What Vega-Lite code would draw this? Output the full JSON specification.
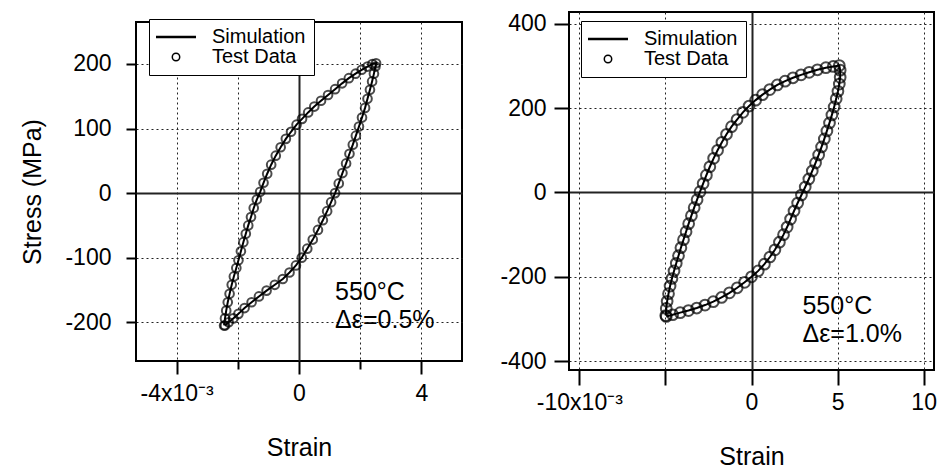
{
  "$schema": "https://vega.github.io/schema/vega-lite/v6.json",
  "background": "white",
  "padding": {"left": 19, "top": 6, "right": 5, "bottom": 2},
  "spacing": 35,
  "config": {
    "font": "Liberation Sans",
    "view": {"stroke": "black", "strokeWidth": 2},
    "axis": {
      "domain": false,
      "labelColor": "black",
      "titleColor": "black",
      "tickColor": "black",
      "tickWidth": 2,
      "labelFontSize": 23,
      "titleFontSize": 25,
      "titleFontWeight": "normal",
      "grid": true,
      "gridColor": "#222",
      "gridOpacity": 1
    },
    "legend": {
      "labelFontSize": 20,
      "labelColor": "black",
      "strokeColor": "black",
      "fillColor": "white",
      "padding": 8,
      "rowPadding": 0,
      "symbolSize": 60,
      "symbolOffset": 9,
      "labelOffset": 26
    }
  },
  "resolve": {
    "scale": {"x": "independent", "y": "independent", "stroke": "independent"},
    "legend": {"stroke": "independent"}
  },
  "datasets": {
    "left": [
      {"o":1,"strain":-0.00245,"stress":-205},{"o":2,"strain":-0.00242,"stress":-194},{"o":3,"strain":-0.00238,"stress":-182},{"o":4,"strain":-0.00233,"stress":-169},{"o":5,"strain":-0.00227,"stress":-156},{"o":6,"strain":-0.0022,"stress":-142},{"o":7,"strain":-0.00213,"stress":-129},{"o":8,"strain":-0.00205,"stress":-116},{"o":9,"strain":-0.00198,"stress":-104},{"o":10,"strain":-0.0019,"stress":-90},
      {"o":11,"strain":-0.00182,"stress":-76},{"o":12,"strain":-0.00174,"stress":-63},{"o":13,"strain":-0.00166,"stress":-50},{"o":14,"strain":-0.00157,"stress":-37},{"o":15,"strain":-0.00148,"stress":-23},{"o":16,"strain":-0.00138,"stress":-10},{"o":17,"strain":-0.00127,"stress":2},{"o":18,"strain":-0.00116,"stress":16},{"o":19,"strain":-0.00104,"stress":30},{"o":20,"strain":-0.00091,"stress":44},
      {"o":21,"strain":-0.00076,"stress":58},{"o":22,"strain":-0.0006,"stress":71},{"o":23,"strain":-0.00043,"stress":84},{"o":24,"strain":-0.00026,"stress":95},{"o":25,"strain":-0.00008,"stress":106},{"o":26,"strain":0.0001,"stress":115},{"o":27,"strain":0.0003,"stress":125},{"o":28,"strain":0.0005,"stress":134},{"o":29,"strain":0.00072,"stress":143},{"o":30,"strain":0.00095,"stress":152},
      {"o":31,"strain":0.00118,"stress":161},{"o":32,"strain":0.00141,"stress":170},{"o":33,"strain":0.00163,"stress":178},{"o":34,"strain":0.00185,"stress":185},{"o":35,"strain":0.00205,"stress":191},{"o":36,"strain":0.00224,"stress":196},{"o":37,"strain":0.0024,"stress":200},{"o":38,"strain":0.00252,"stress":201},
      {"o":39,"strain":0.0025,"stress":196},{"o":40,"strain":0.00245,"stress":185},{"o":41,"strain":0.00239,"stress":173},{"o":42,"strain":0.00232,"stress":160},{"o":43,"strain":0.00224,"stress":146},{"o":44,"strain":0.00216,"stress":132},{"o":45,"strain":0.00206,"stress":117},{"o":46,"strain":0.00196,"stress":103},{"o":47,"strain":0.00186,"stress":89},{"o":48,"strain":0.00176,"stress":75},
      {"o":49,"strain":0.00165,"stress":61},{"o":50,"strain":0.00154,"stress":46},{"o":51,"strain":0.00142,"stress":31},{"o":52,"strain":0.0013,"stress":15},{"o":53,"strain":0.00118,"stress":0},{"o":54,"strain":0.00105,"stress":-14},{"o":55,"strain":0.00092,"stress":-28},{"o":56,"strain":0.00078,"stress":-42},{"o":57,"strain":0.00062,"stress":-57},{"o":58,"strain":0.00045,"stress":-72},
      {"o":59,"strain":0.00027,"stress":-86},{"o":60,"strain":0.00009,"stress":-100},{"o":61,"strain":-0.0001,"stress":-112},{"o":62,"strain":-0.00031,"stress":-123},{"o":63,"strain":-0.00053,"stress":-133},{"o":64,"strain":-0.00079,"stress":-142},{"o":65,"strain":-0.00106,"stress":-151},{"o":66,"strain":-0.00131,"stress":-160},{"o":67,"strain":-0.00155,"stress":-169},{"o":68,"strain":-0.00178,"stress":-178},
      {"o":69,"strain":-0.00198,"stress":-187},{"o":70,"strain":-0.00215,"stress":-194},{"o":71,"strain":-0.0023,"stress":-200},{"o":72,"strain":-0.00242,"stress":-205}
    ],
    "right": [
      {"o":1,"strain":-0.00498,"stress":-292},{"o":2,"strain":-0.00495,"stress":-275},{"o":3,"strain":-0.0049,"stress":-258},{"o":4,"strain":-0.00482,"stress":-240},{"o":5,"strain":-0.00473,"stress":-222},{"o":6,"strain":-0.00462,"stress":-204},{"o":7,"strain":-0.0045,"stress":-186},{"o":8,"strain":-0.00437,"stress":-168},{"o":9,"strain":-0.00424,"stress":-150},{"o":10,"strain":-0.0041,"stress":-131},
      {"o":11,"strain":-0.00395,"stress":-112},{"o":12,"strain":-0.0038,"stress":-93},{"o":13,"strain":-0.00365,"stress":-74},{"o":14,"strain":-0.00349,"stress":-55},{"o":15,"strain":-0.00333,"stress":-36},{"o":16,"strain":-0.00316,"stress":-17},{"o":17,"strain":-0.00299,"stress":2},{"o":18,"strain":-0.00281,"stress":21},{"o":19,"strain":-0.00262,"stress":41},{"o":20,"strain":-0.00242,"stress":61},
      {"o":21,"strain":-0.0022,"stress":81},{"o":22,"strain":-0.00197,"stress":100},{"o":23,"strain":-0.00172,"stress":119},{"o":24,"strain":-0.00145,"stress":138},{"o":25,"strain":-0.00116,"stress":156},{"o":26,"strain":-0.00084,"stress":173},{"o":27,"strain":-0.0005,"stress":190},{"o":28,"strain":-0.00014,"stress":205},{"o":29,"strain":0.00024,"stress":219},{"o":30,"strain":0.00064,"stress":232},
      {"o":31,"strain":0.00106,"stress":244},{"o":32,"strain":0.0015,"stress":255},{"o":33,"strain":0.00195,"stress":264},{"o":34,"strain":0.00241,"stress":272},{"o":35,"strain":0.00288,"stress":279},{"o":36,"strain":0.00335,"stress":285},{"o":37,"strain":0.00383,"stress":291},{"o":38,"strain":0.00432,"stress":296},{"o":39,"strain":0.00475,"stress":299},{"o":40,"strain":0.0051,"stress":301},
      {"o":41,"strain":0.00515,"stress":290},{"o":42,"strain":0.00515,"stress":273},{"o":43,"strain":0.0051,"stress":257},{"o":44,"strain":0.00502,"stress":240},{"o":45,"strain":0.00492,"stress":222},{"o":46,"strain":0.0048,"stress":203},{"o":47,"strain":0.00467,"stress":184},{"o":48,"strain":0.00453,"stress":165},{"o":49,"strain":0.00438,"stress":146},{"o":50,"strain":0.00423,"stress":127},
      {"o":51,"strain":0.00407,"stress":108},{"o":52,"strain":0.0039,"stress":89},{"o":53,"strain":0.00372,"stress":70},{"o":54,"strain":0.00353,"stress":51},{"o":55,"strain":0.00333,"stress":32},{"o":56,"strain":0.00312,"stress":13},{"o":57,"strain":0.0029,"stress":-6},{"o":58,"strain":0.00268,"stress":-25},{"o":59,"strain":0.00247,"stress":-44},{"o":60,"strain":0.00227,"stress":-63},
      {"o":61,"strain":0.00207,"stress":-82},{"o":62,"strain":0.00186,"stress":-100},{"o":63,"strain":0.00162,"stress":-118},{"o":64,"strain":0.00136,"stress":-136},{"o":65,"strain":0.00107,"stress":-153},{"o":66,"strain":0.00075,"stress":-170},{"o":67,"strain":0.00039,"stress":-186},{"o":68,"strain":0.0,"stress":-200},{"o":69,"strain":-0.0004,"stress":-213},{"o":70,"strain":-0.00083,"stress":-226},
      {"o":71,"strain":-0.00128,"stress":-238},{"o":72,"strain":-0.00174,"stress":-249},{"o":73,"strain":-0.00222,"stress":-259},{"o":74,"strain":-0.0027,"stress":-267},{"o":75,"strain":-0.00318,"stress":-274},{"o":76,"strain":-0.00366,"stress":-280},{"o":77,"strain":-0.00414,"stress":-285},{"o":78,"strain":-0.00458,"stress":-290},{"o":79,"strain":-0.00495,"stress":-294}
    ]
  },
  "hconcat": [
    {
      "spacing": 3,
      "vconcat": [
        {
          "width": 1,
          "height": 1,
          "view": {"stroke": null},
          "data": {"values": [{"t": ""}]},
          "mark": {"type": "text", "text": ""}
        },
        {
          "width": 326,
          "height": 339,
          "data": {"name": "left"},
          "encoding": {
            "x": {
              "field": "strain", "type": "quantitative",
              "scale": {"domain": [-0.00533, 0.00533], "nice": false, "zero": false},
              "axis": {
                "title": "Strain",
                "values": [-0.004, -0.002, 0, 0.002, 0.004],
                "labelExpr": "datum.value < -0.003 ? '-4x10⁻³' : (abs(datum.value) > 0.001 && abs(datum.value) < 0.003) ? '' : format(datum.value * 1000, 'd')",
                "tickSize": {"condition": {"test": "abs(datum.value) > 0.001 && abs(datum.value) < 0.003", "value": 8}, "value": 13},
                "labelPadding": 8,
                "titlePadding": 30,
                "gridDash": {"condition": {"test": "abs(datum.value) < 0.0001", "value": []}, "value": [2, 3]},
                "gridWidth": {"condition": {"test": "abs(datum.value) < 0.0001", "value": 2}, "value": 1}
              }
            },
            "y": {
              "field": "stress", "type": "quantitative",
              "scale": {"domain": [-260, 265], "nice": false, "zero": false},
              "axis": {
                "title": "Stress (MPa)",
                "values": [-200, -100, 0, 100, 200],
                "labelExpr": "datum.value < 0 ? '-' + format(-datum.value, 'd') : format(datum.value, 'd')",
                "tickSize": 10,
                "labelPadding": 15,
                "titlePadding": 19,
                "gridDash": {"condition": {"test": "datum.value === 0", "value": []}, "value": [2, 3]},
                "gridWidth": {"condition": {"test": "datum.value === 0", "value": 2}, "value": 1}
              }
            }
          },
          "layer": [
            {
              "mark": {"type": "line", "strokeWidth": 2},
              "encoding": {
                "order": {"field": "o"},
                "stroke": {
                  "datum": "Simulation",
                  "scale": {"domain": ["Simulation", "Test Data"], "range": ["black", "black"]},
                  "legend": {
                    "title": null,
                    "orient": "none",
                    "legendX": 13,
                    "legendY": 7,
                    "encode": {
                      "symbols": {
                        "update": {
                          "shape": {"signal": "datum.value === 'Simulation' ? 'stroke' : 'circle'"},
                          "size": {"signal": "datum.value === 'Simulation' ? 1600 : 55"},
                          "strokeWidth": {"signal": "datum.value === 'Simulation' ? 2.5 : 1.5"},
                          "stroke": {"value": "black"},
                          "fill": {"value": "transparent"}
                        }
                      }
                    }
                  }
                }
              }
            },
            {
              "mark": {"type": "point", "shape": "circle", "filled": false, "size": 75, "strokeWidth": 2},
              "encoding": {"stroke": {"datum": "Test Data"}}
            },
            {
              "transform": [{"filter": "datum.o === 1"}],
              "mark": {"type": "text", "text": ["550°C", "Δε=0.5%"], "align": "left", "baseline": "alphabetic", "fontSize": 25, "lineHeight": 28, "fill": "black"},
              "encoding": {"x": {"datum": 0.00118, "type": "quantitative"}, "y": {"datum": -166, "type": "quantitative"}}
            }
          ]
        }
      ]
    },
    {
      "width": 365,
      "height": 358,
      "data": {"name": "right"},
      "encoding": {
        "x": {
          "field": "strain", "type": "quantitative",
          "scale": {"domain": [-0.0106, 0.0106], "nice": false, "zero": false},
          "axis": {
            "title": "Strain",
            "values": [-0.01, -0.005, 0, 0.005, 0.01],
            "labelExpr": "datum.value < -0.008 ? '-10x10⁻³' : datum.value < -0.003 ? '' : format(datum.value * 1000, 'd')",
            "tickSize": 15,
            "labelPadding": 6,
            "titlePadding": 30,
            "gridDash": {"condition": {"test": "abs(datum.value) < 0.0001", "value": []}, "value": [2, 3]},
            "gridWidth": {"condition": {"test": "abs(datum.value) < 0.0001", "value": 2}, "value": 1}
          }
        },
        "y": {
          "field": "stress", "type": "quantitative",
          "scale": {"domain": [-421, 428], "nice": false, "zero": false},
          "axis": {
            "title": null,
            "values": [-400, -200, 0, 200, 400],
            "labelExpr": "datum.value < 0 ? '-' + format(-datum.value, 'd') : format(datum.value, 'd')",
            "tickSize": 15,
            "labelPadding": 8,
            "gridDash": {"condition": {"test": "datum.value === 0", "value": []}, "value": [2, 3]},
            "gridWidth": {"condition": {"test": "datum.value === 0", "value": 2}, "value": 1}
          }
        }
      },
      "layer": [
        {
          "mark": {"type": "line", "strokeWidth": 2},
          "encoding": {
            "order": {"field": "o"},
            "stroke": {
              "datum": "Simulation",
              "scale": {"domain": ["Simulation", "Test Data"], "range": ["black", "black"]},
              "legend": {
                "title": null,
                "orient": "none",
                "legendX": 12,
                "legendY": 9,
                "encode": {
                  "symbols": {
                    "update": {
                      "shape": {"signal": "datum.value === 'Simulation' ? 'stroke' : 'circle'"},
                      "size": {"signal": "datum.value === 'Simulation' ? 1600 : 55"},
                      "strokeWidth": {"signal": "datum.value === 'Simulation' ? 2.5 : 1.5"},
                      "stroke": {"value": "black"},
                      "fill": {"value": "transparent"}
                    }
                  }
                }
              }
            }
          }
        },
        {
          "mark": {"type": "point", "shape": "circle", "filled": false, "size": 115, "strokeWidth": 2},
          "encoding": {"stroke": {"datum": "Test Data"}}
        },
        {
          "transform": [{"filter": "datum.o === 1"}],
          "mark": {"type": "text", "text": ["550°C", "Δε=1.0%"], "align": "left", "baseline": "alphabetic", "fontSize": 25, "lineHeight": 28, "fill": "black"},
          "encoding": {"x": {"datum": 0.00296, "type": "quantitative"}, "y": {"datum": -289, "type": "quantitative"}}
        }
      ]
    }
  ]
}
